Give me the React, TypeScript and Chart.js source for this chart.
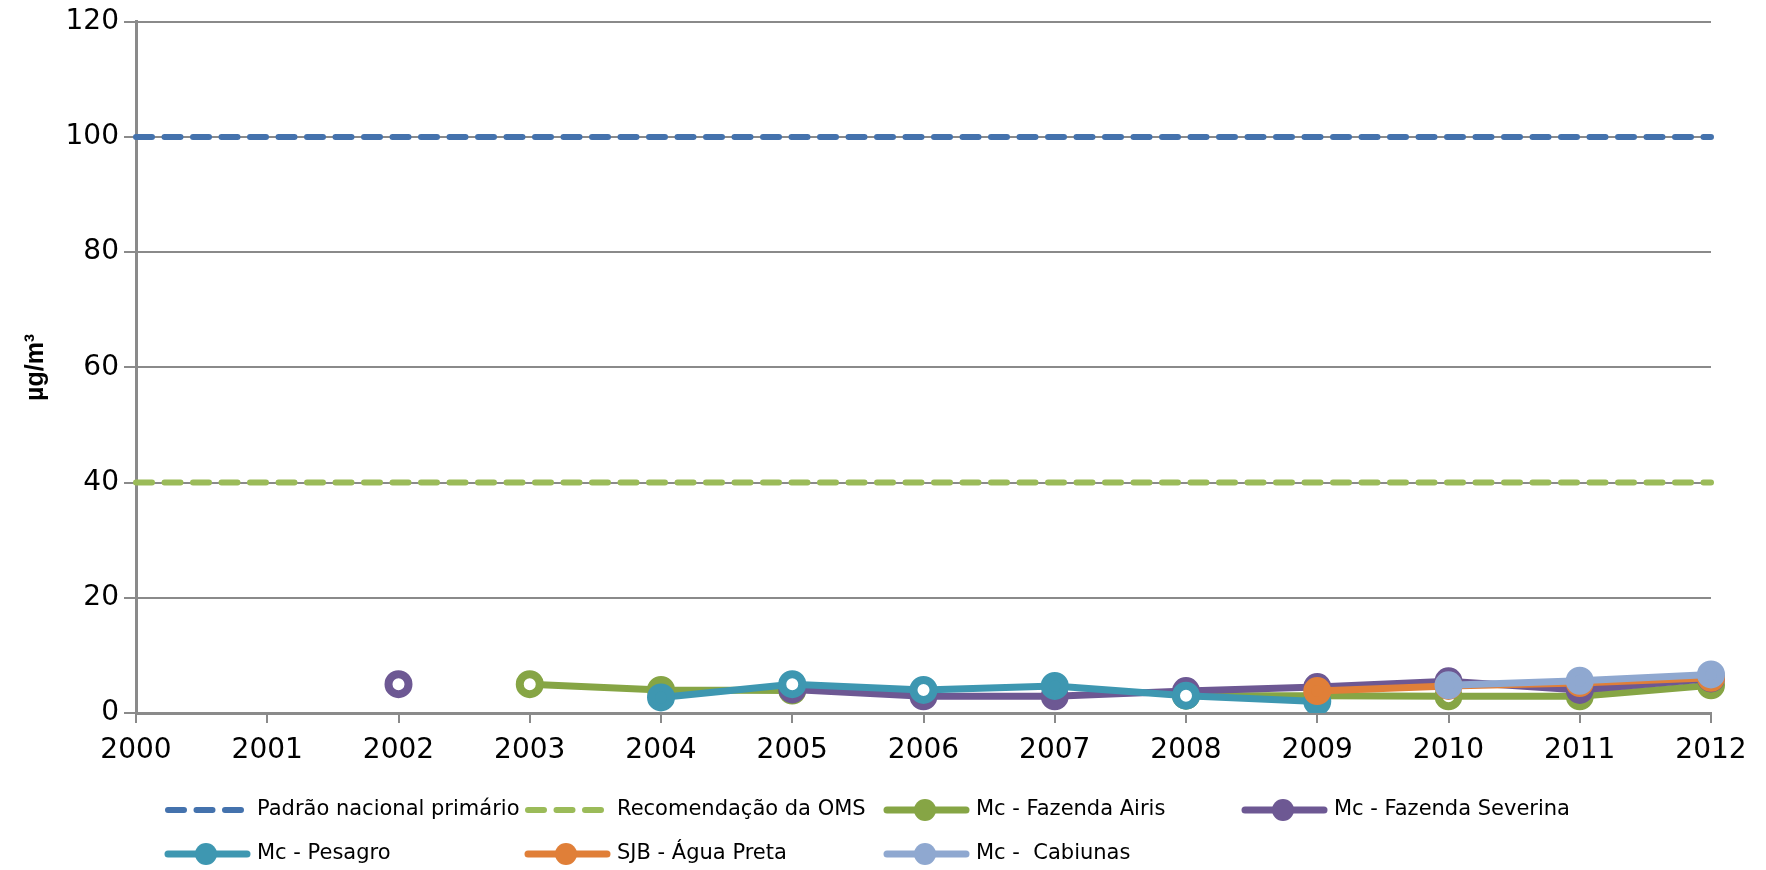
import React, { useEffect, useRef } from 'react';
import { Chart, registerables } from 'chart.js';

Chart.register(...registerables);

const years = ['2000', '2001', '2002', '2003', '2004', '2005', '2006', '2007', '2008', '2009', '2010', '2011', '2012'];

const padraoNacional = [100, 100, 100, 100, 100, 100, 100, 100, 100, 100, 100, 100, 100];
const recomendacaoOMS = [40, 40, 40, 40, 40, 40, 40, 40, 40, 40, 40, 40, 40];
const fazendaAiris = [null, null, null, 5, 4, 3.9, null, null, 3, 3, 2.9, 2.9, 4.8];
const fazendaSeverina = [null, null, 5, null, null, 4.1, 2.9, 2.9, 3.8, 4.5, 5.5, 4, 6];
const pesagro = [null, null, null, null, 2.7, 5, 4, 4.7, 3, 2, null, null, null];
const aguaPreta = [null, null, null, null, null, null, null, null, null, 3.8, 4.7, 5.2, 6.1];
const cabiunas = [null, null, null, null, null, null, null, null, null, null, 4.8, 5.6, 6.7];

// years whose marker is drawn open (white centre)
const airisOpenYears = ['2003', '2010'];
const severinaOpenYears = ['2002'];
const pesagroOpenYears = ['2005', '2006', '2008'];

const yTicks = [0, 20, 40, 60, 80, 100, 120];

const FONT = 'DejaVu Sans';
const GRID = '#8a8a8a';

function pointFills(color: string, openYears: string[]) {
  return years.map((y) => (openYears.includes(y) ? '#ffffff' : color));
}

function dashed(label: string, data: (number | null)[], color: string) {
  return {
    label,
    data,
    borderColor: color,
    backgroundColor: color,
    borderWidth: 6,
    borderDash: [16, 12.5],
    borderCapStyle: 'round' as const,
    pointRadius: 0,
    pointHoverRadius: 0,
    fill: false,
    tension: 0,
  };
}

function solid(label: string, data: (number | null)[], color: string, openYears: string[]) {
  return {
    label,
    data,
    borderColor: color,
    backgroundColor: color,
    borderWidth: 7,
    pointRadius: 10,
    pointBorderWidth: 8,
    pointBorderColor: color,
    pointBackgroundColor: pointFills(color, openYears),
    pointHoverRadius: 10,
    fill: false,
    tension: 0,
    spanGaps: false,
  };
}

const gridLegend = {
  id: 'gridLegend',
  afterDraw(chart: any) {
    const ctx = chart.ctx as CanvasRenderingContext2D;
    const cols = [165, 525, 884, 1242];
    const rows = [810, 854];
    const lineLen = 82;
    chart.data.datasets.forEach((ds: any, i: number) => {
      const x = cols[i % 4];
      const y = rows[Math.floor(i / 4)];
      ctx.save();
      ctx.strokeStyle = ds.borderColor;
      ctx.lineWidth = ds.borderWidth;
      ctx.lineCap = 'round';
      ctx.setLineDash(ds.borderDash ? ds.borderDash : []);
      ctx.beginPath();
      ctx.moveTo(x + 3, y);
      ctx.lineTo(x + lineLen, y);
      ctx.stroke();
      ctx.setLineDash([]);
      if (ds.pointRadius > 0) {
        ctx.fillStyle = ds.borderColor;
        ctx.beginPath();
        ctx.arc(x + lineLen / 2, y, 11, 0, Math.PI * 2);
        ctx.fill();
      }
      ctx.fillStyle = '#000';
      ctx.font = `21px "${FONT}"`;
      ctx.textBaseline = 'middle';
      ctx.textAlign = 'left';
      ctx.fillText(ds.label, x + 92, y);
      ctx.restore();
    });
  },
};

export default function App() {
  const ref = useRef<HTMLCanvasElement | null>(null);

  useEffect(() => {
    document.body.style.margin = '0';
    if (!ref.current) return;
    const datasets = [
      dashed('Padrão nacional primário', padraoNacional, '#4472ad'),
      dashed('Recomendação da OMS', recomendacaoOMS, '#9bbb59'),
      solid('Mc - Fazenda Airis', fazendaAiris, '#86a545', airisOpenYears),
      solid('Mc - Fazenda Severina', fazendaSeverina, '#6d5893', severinaOpenYears),
      solid('Mc - Pesagro', pesagro, '#3e97b1', pesagroOpenYears),
      solid('SJB - Água Preta', aguaPreta, '#e07f38', []),
      solid('Mc -  Cabiunas', cabiunas, '#8fa8d0', []),
    ].map((d, i, arr) => ({ ...d, order: arr.length - i }));

    const chart = new Chart(ref.current, {
      type: 'line',
      data: { labels: years, datasets: datasets as any },
      options: {
        responsive: false,
        animation: false,
        layout: { padding: { top: 4, right: 55, bottom: 107, left: 0 } },
        plugins: {
          legend: { display: false },
          tooltip: { enabled: false },
        },
        scales: {
          x: {
            type: 'category',
            offset: false,
            afterFit: (s: any) => {
              s.height = 50;
            },
            grid: {
              drawOnChartArea: false,
              drawTicks: true,
              tickLength: 10,
              color: GRID,
              lineWidth: 2,
            },
            border: { display: true, color: GRID, width: 3 },
            ticks: {
              autoSkip: false,
              maxRotation: 0,
              minRotation: 0,
              padding: 11,
              color: '#000',
              font: { family: FONT, size: 28 },
            },
          },
          y: {
            min: 0,
            max: 120,
            afterFit: (s: any) => {
              s.width = 136;
            },
            afterBuildTicks: (s: any) => {
              s.ticks = yTicks.map((v) => ({ value: v }));
            },
            grid: {
              color: GRID,
              lineWidth: 2,
              tickLength: 12,
              drawTicks: true,
            },
            border: { display: true, color: GRID, width: 3 },
            ticks: {
              padding: 5,
              color: '#000',
              font: { family: FONT, size: 28 },
            },
            title: {
              display: true,
              text: 'µg/m³',
              color: '#000',
              font: { family: 'Liberation Sans', size: 25, weight: 'bold' },
              padding: { top: 21, bottom: 0 },
            },
          },
        },
      },
      plugins: [gridLegend],
    });
    return () => chart.destroy();
  }, []);

  return <canvas ref={ref} width={1766} height={870} style={{ display: 'block' }} />;
}
